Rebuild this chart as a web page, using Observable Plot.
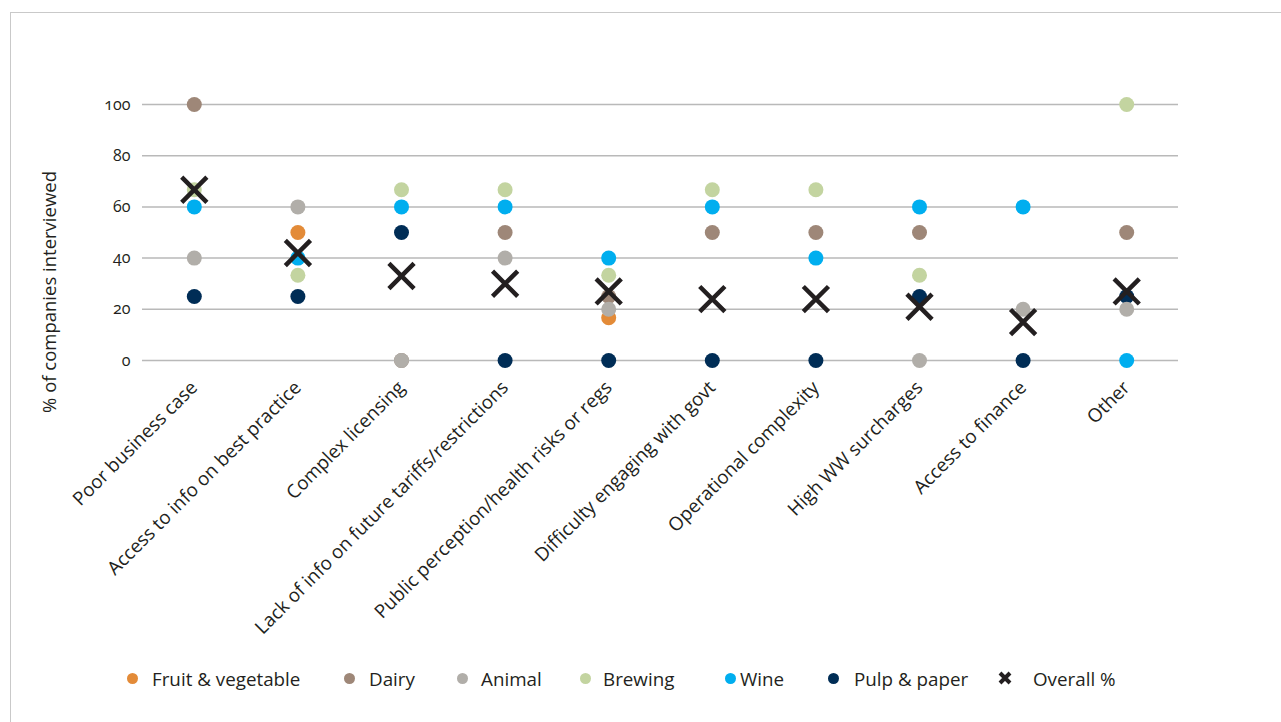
<!DOCTYPE html>
<html>
<head>
<meta charset="utf-8">
<script src="https://cdn.jsdelivr.net/npm/d3@7"></script>
<script src="https://cdn.jsdelivr.net/npm/@observablehq/plot@0.6"></script>
<style>
  html, body { margin: 0; padding: 0; background: #fff; }
  body { width: 1281px; height: 722px; position: relative; overflow: hidden; font-family: "Open Sans", "Noto Sans", sans-serif; color: #231f20; }
  #frame { position: absolute; left: 10px; top: 12px; width: 1300px; height: 740px; border: 1.5px solid #c9c9c9; box-sizing: border-box; }
  #chart { position: absolute; left: 0; top: 0; }
  #ylabel { position: absolute; left: 48px; top: 292px; transform: translate(-50%, -50%) rotate(-90deg); white-space: nowrap; font-size: 18.5px; }
  .leg { position: absolute; top: 679px; transform: translateY(-50%); font-size: 18.8px; white-space: nowrap; line-height: 1; }
  .legdot { position: absolute; width: 11px; height: 11px; border-radius: 50%; top: 673px; }
  .legx { position: absolute; top: 671px; }
</style>
</head>
<body>
<div id="frame"></div>
<div id="chart"></div>
<div id="ylabel">% of companies interviewed</div>
<div id="legend"></div>
<script>
const categories = [
  "Poor business case",
  "Access to info on best practice",
  "Complex licensing",
  "Lack of info on future tariffs/restrictions",
  "Public perception/health risks or regs",
  "Difficulty engaging with govt",
  "Operational complexity",
  "High WW surcharges",
  "Access to finance",
  "Other"
];
const seriesNames = ["Fruit & vegetable", "Dairy", "Animal", "Brewing", "Wine", "Pulp & paper", "Overall %"];
const seriesColors = ["#e38b38", "#9e8778", "#b1aea9", "#c3d4a0", "#00aeef", "#002d56", "#231f20"];
const fruitVeg  = [null, 50, null, null, 16.7, null, null, null, null, null];
const dairy     = [100, null, 0, 50, 25, 50, 50, 50, null, 50];
const animal    = [40, 60, 0, 40, 20, null, null, 0, 20, 20];
const brewing   = [66.7, 33.3, 66.7, 66.7, 33.3, 66.7, 66.7, 33.3, null, 100];
const wine      = [60, 40, 60, 60, 40, 60, 40, 60, 60, 0];
const pulpPaper = [25, 25, 50, 0, 0, 0, 0, 25, 0, 25];
const overall   = [66.7, 42, 33, 30, 27, 24, 24, 21, 15, 27];
const yTicks = [0, 20, 40, 60, 80, 100];

// drawing order (later on top)
const drawOrder = [
  ["Fruit & vegetable", fruitVeg],
  ["Dairy", dairy],
  ["Pulp & paper", pulpPaper],
  ["Animal", animal],
  ["Brewing", brewing],
  ["Wine", wine]
];
const rows = [];
drawOrder.forEach(([name, vals]) => {
  vals.forEach((v, i) => { if (v != null) rows.push({category: categories[i], series: name, value: v}); });
});
const overallRows = overall.map((v, i) => ({category: categories[i], value: v}));

const chart = Plot.plot({
  width: 1281,
  height: 640,
  marginLeft: 142,
  marginRight: 103,
  marginTop: 104,
  marginBottom: 280,
  style: {fontFamily: "'Open Sans', 'Noto Sans', sans-serif", fontSize: "16px", color: "#231f20", background: "transparent"},
  x: {type: "point", domain: categories, padding: 0.5, round: false, label: null},
  y: {domain: [0, 100], label: null},
  color: {domain: seriesNames, range: seriesColors},
  marks: [
    Plot.gridY(yTicks, {stroke: "#b9b9b9", strokeOpacity: 1, strokeWidth: 1.5}),
    Plot.axisY({ticks: yTicks, tickSize: 0, tickPadding: 12, label: null, fontSize: 16, fontVariant: "oldstyle-nums"}),
    Plot.axisX({tickSize: 0, tickRotate: -45, tickPadding: 24, label: null, fontSize: 18.8}),
    Plot.dot(rows, {x: "category", y: "value", fill: "series", r: 7.5}),
    Plot.dot(overallRows, {x: "category", y: "value", symbol: "times", r: 11.5, stroke: "#231f20", strokeWidth: 4.5})
  ]
});
document.getElementById("chart").appendChild(chart);

// legend
const legendDotX = [132, 349, 462, 585, 730, 833, 1005];
const legendTextX = [152, 369, 481, 603, 740, 854, 1033];
const legend = document.getElementById("legend");
seriesNames.forEach((name, i) => {
  if (i < 6) {
    const d = document.createElement("div");
    d.className = "legdot";
    d.style.left = (legendDotX[i] - 5.5) + "px";
    d.style.background = seriesColors[i];
    legend.appendChild(d);
  } else {
    const svg = d3.create("svg").attr("class", "legx").attr("width", 14).attr("height", 14)
      .style("left", (legendDotX[i] - 7) + "px");
    svg.append("path").attr("d", "M2,2L12,12M12,2L2,12").attr("stroke", seriesColors[i]).attr("stroke-width", 4);
    legend.appendChild(svg.node());
  }
  const t = document.createElement("div");
  t.className = "leg";
  t.style.left = legendTextX[i] + "px";
  t.textContent = name;
  legend.appendChild(t);
});
</script>
</body>
</html>
